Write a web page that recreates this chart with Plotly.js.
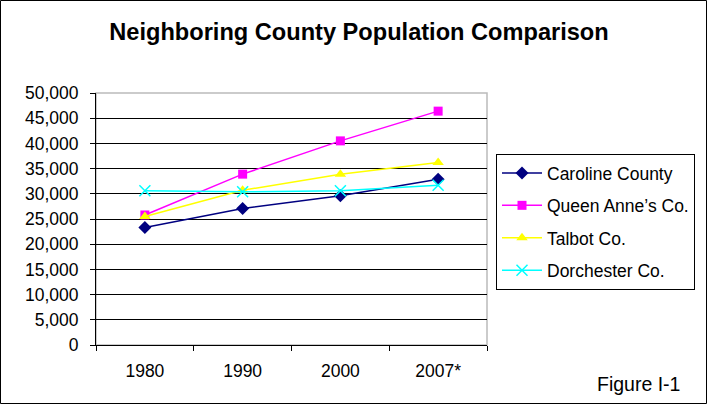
<!DOCTYPE html>
<html><head><meta charset="utf-8">
<script src="https://cdn.plot.ly/plotly-3.0.1.min.js"></script>
<style>html,body{margin:0;padding:0;background:#fff}#c{width:707px;height:404px}</style>
</head><body><div id="c"></div>
<script>
const years = ['1980','1990','2000','2007*'];
const caroline = [23300, 27100, 29600, 32900];
const queenAnnes = [25800, 33900, 40500, 46400];
const talbot = [25500, 30700, 33900, 36200];
const dorchester = [30600, 30400, 30600, 31700];
const names = ['Caroline County', 'Queen Anne\u2019s Co.', 'Talbot Co.', 'Dorchester Co.'];

const L = 96, R = 487, T = 93, B = 345, W = 707, H = 404;
const pw = R - L, ph = B - T;
const px = v => (v - L) / pw, py = v => (B - v) / ph;

const traces = [
  {x: years, y: caroline, name: names[0], legendgroup: 'a', mode: 'lines+markers',
   line: {color: '#000080', width: 1.5}, marker: {symbol: 'diamond', size: 10, color: '#000080'}},
  {x: years, y: queenAnnes, name: names[1], legendgroup: 'b', mode: 'lines+markers',
   line: {color: '#FF00FF', width: 1.5}, marker: {symbol: 'square', size: 9, color: '#FF00FF'}},
  {x: years, y: talbot, name: names[2], legendgroup: 'c', mode: 'lines+markers',
   line: {color: '#FFFF00', width: 1.5}, marker: {symbol: 'triangle-up', size: 10, color: '#FFFF00'}},
  {x: years, y: dorchester, name: names[3], legendgroup: 'd', mode: 'lines+markers',
   line: {color: '#00FFFF', width: 1.5}, marker: {symbol: 'x-thin-open', size: 11, color: '#00FFFF', line: {color: '#00FFFF', width: 1.5}}}
];

const layout = {
  width: W, height: H,
  margin: {l: L, r: W - R, t: T, b: H - B, pad: 0},
  paper_bgcolor: '#fff', plot_bgcolor: '#fff',
  font: {family: 'Arial, Liberation Sans, sans-serif', size: 17.5, color: '#000'},
  title: {text: '<b>Neighboring County Population Comparison</b>', font: {size: 23.6, color: '#000'},
          x: 359 / W, xanchor: 'center', y: 1 - 32 / H, yanchor: 'middle'},
  showlegend: true,
  legend: {x: px(496), y: py(154), xanchor: 'left', yanchor: 'top',
           bordercolor: '#000', borderwidth: 1, bgcolor: '#fff',
           font: {size: 17.5}, traceorder: 'grouped', tracegroupgap: 6.7, itemwidth: 40},
  xaxis: {type: 'category', range: [-0.5, 3.5], showgrid: false, showline: true, linecolor: '#000', linewidth: 1,
          ticks: 'outside', ticklen: 5, tickcolor: '#000', tickson: 'boundaries', zeroline: false,
          ticklabelstandoff: 10, fixedrange: true},
  yaxis: {range: [0, 50000], dtick: 5000, tickformat: ',d', showgrid: true, gridcolor: '#000', gridwidth: 1,
          showline: true, linecolor: '#000', linewidth: 1, ticks: 'outside', ticklen: 5, tickcolor: '#000',
          zeroline: false, ticklabelstandoff: 8, fixedrange: true},
  shapes: [
    {type: 'rect', xref: 'paper', yref: 'paper', x0: 0, x1: 1, y0: 0, y1: 1, line: {color: '#BBBBBB', width: 1.5}, layer: 'below'},
    {type: 'rect', xref: 'paper', yref: 'paper', x0: px(0.5), x1: px(706.5), y0: py(403.5), y1: py(0.5), line: {color: '#000', width: 1}}
  ],
  annotations: [
    {text: 'Figure I-1', xref: 'paper', yref: 'paper', x: px(638), y: py(384), xanchor: 'center', yanchor: 'middle',
     showarrow: false, font: {size: 19.5, color: '#000'}}
  ]
};
Plotly.newPlot('c', traces, layout, {displayModeBar: false, staticPlot: true});
</script></body></html>
